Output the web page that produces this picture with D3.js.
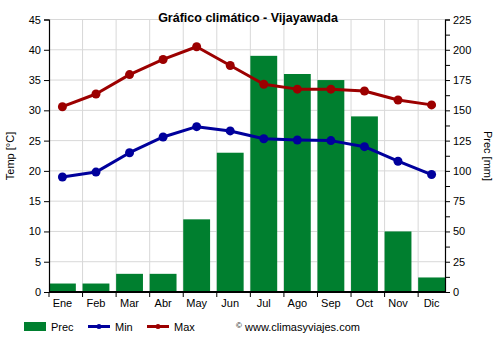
<!DOCTYPE html>
<html>
<head>
<meta charset="utf-8">
<script src="https://cdn.jsdelivr.net/npm/d3@7"></script>
<style>
  body { margin: 0; background: #fff; }
  svg { font-family: "Liberation Sans", Arial, sans-serif; }
</style>
</head>
<body>
<svg id="chart" width="500" height="350"></svg>
<script>
// Monthly climate data for Vijayawada
const months = ["Ene","Feb","Mar","Abr","May","Jun","Jul","Ago","Sep","Oct","Nov","Dic"];
const precMm = [7, 7, 15, 15, 60, 115, 195, 180, 175, 145, 50, 12];
const tempMin = [19.0, 19.8, 23.0, 25.6, 27.3, 26.6, 25.3, 25.1, 25.0, 24.0, 21.6, 19.4];
const tempMax = [30.6, 32.7, 35.9, 38.4, 40.5, 37.4, 34.3, 33.5, 33.5, 33.2, 31.7, 30.9];
const tempTicks = [0, 5, 10, 15, 20, 25, 30, 35, 40, 45];
const precTicks = [0, 25, 50, 75, 100, 125, 150, 175, 200, 225];

const colors = { prec: "#007f2f", min: "#00009c", max: "#9c0000", grid: "#d8d8d8" };

(function () {
const svg = d3.select("#chart");
const plotLeft = 49, plotRight = 445, plotTop = 19.5, plotBottom = 292;

const x = d3.scaleBand().domain(months).range([plotLeft, plotRight]).paddingInner(0.2).paddingOuter(0);
const yT = d3.scaleLinear().domain([0, 45]).range([plotBottom, plotTop]);
const yP = d3.scaleLinear().domain([0, 225]).range([plotBottom, plotTop]);
const cx = m => x(m) + x.bandwidth() / 2;

// grid
const grid = svg.append("g");
tempTicks.forEach(t => {
  grid.append("line").attr("x1", plotLeft).attr("x2", plotRight)
    .attr("y1", yT(t)).attr("y2", yT(t))
    .attr("stroke", colors.grid).attr("stroke-width", 1);
});
months.slice(1).forEach(m => {
  grid.append("line").attr("x1", x(m)).attr("x2", x(m))
    .attr("y1", plotTop).attr("y2", plotBottom)
    .attr("stroke", colors.grid).attr("stroke-width", 1);
});

// precipitation bars
svg.append("g").selectAll("rect").data(months).join("rect")
  .attr("x", m => x(m))
  .attr("width", x.bandwidth())
  .attr("y", (m, i) => yP(precMm[i]))
  .attr("height", (m, i) => plotBottom - yP(precMm[i]))
  .attr("fill", colors.prec);

// temperature lines
function drawSeries(vals, color) {
  const line = d3.line().x((d, i) => cx(months[i])).y(d => yT(d));
  svg.append("path").datum(vals).attr("d", line)
    .attr("fill", "none").attr("stroke", color).attr("stroke-width", 3)
    .attr("stroke-linejoin", "round");
  svg.append("g").selectAll("circle").data(vals).join("circle")
    .attr("cx", (d, i) => cx(months[i])).attr("cy", d => yT(d))
    .attr("r", 4.5).attr("fill", color);
}
drawSeries(tempMax, colors.max);
drawSeries(tempMin, colors.min);

// axes
const axisFont = g => g.selectAll("text").attr("font-size", 11).attr("fill", "#000")
  .attr("font-family", "'Liberation Sans', Arial, sans-serif");

const leftAxis = svg.append("g").attr("transform", `translate(${plotLeft},0)`)
  .call(d3.axisLeft(yT).tickValues(tempTicks).tickSize(5).tickPadding(3));
leftAxis.call(axisFont);

const rightAxis = svg.append("g").attr("transform", `translate(${plotRight},0)`)
  .call(d3.axisRight(yP).tickValues(d3.range(0, 226, 12.5)).tickSize(5).tickPadding(3)
    .tickFormat(d => precTicks.includes(d) ? d : ""));
rightAxis.call(axisFont);

const bottomAxis = svg.append("g").attr("transform", `translate(0,${plotBottom})`)
  .call(d3.axisBottom(x).tickSize(0).tickPadding(7));
bottomAxis.call(axisFont);
bottomAxis.select(".domain").remove();
// ticks at category boundaries
months.forEach(m => {
  bottomAxis.append("line").attr("x1", x(m)).attr("x2", x(m)).attr("y1", 0).attr("y2", 5)
    .attr("stroke", "#000");
});
bottomAxis.append("line").attr("x1", plotLeft).attr("x2", plotRight).attr("y1", 0).attr("y2", 0)
  .attr("stroke", "#000").attr("stroke-width", 2);
[leftAxis, rightAxis].forEach(a => a.select(".domain").attr("stroke-width", 1.2));

// title & axis titles
svg.append("text").attr("x", 248).attr("y", 22).attr("text-anchor", "middle")
  .attr("font-size", 12.5).attr("font-weight", "bold").text("Gráfico climático - Vijayawada");
svg.append("text").attr("transform", "translate(14,156) rotate(-90)").attr("text-anchor", "middle")
  .attr("font-size", 11).text("Temp [°C]");
svg.append("text").attr("transform", "translate(484,156) rotate(90)").attr("text-anchor", "middle")
  .attr("font-size", 11).text("Prec [mm]");

// legend
const lg = svg.append("g").attr("font-size", 11);
lg.append("rect").attr("x", 24).attr("y", 322).attr("width", 22).attr("height", 9).attr("fill", colors.prec);
lg.append("text").attr("x", 51).attr("y", 331).text("Prec");
[[88, colors.min, "Min"], [147, colors.max, "Max"]].forEach(([lx, c, t]) => {
  lg.append("line").attr("x1", lx).attr("x2", lx + 22).attr("y1", 326.5).attr("y2", 326.5)
    .attr("stroke", c).attr("stroke-width", 3);
  lg.append("circle").attr("cx", lx + 11).attr("cy", 326.5).attr("r", 2.5).attr("fill", c);
  lg.append("text").attr("x", lx + 27).attr("y", 331).text(t);
});
lg.append("text").attr("x", 236).attr("y", 328).attr("font-size", 8).text("©");
lg.append("text").attr("x", 245).attr("y", 331).text("www.climasyviajes.com");
})();
</script>
</body>
</html>
